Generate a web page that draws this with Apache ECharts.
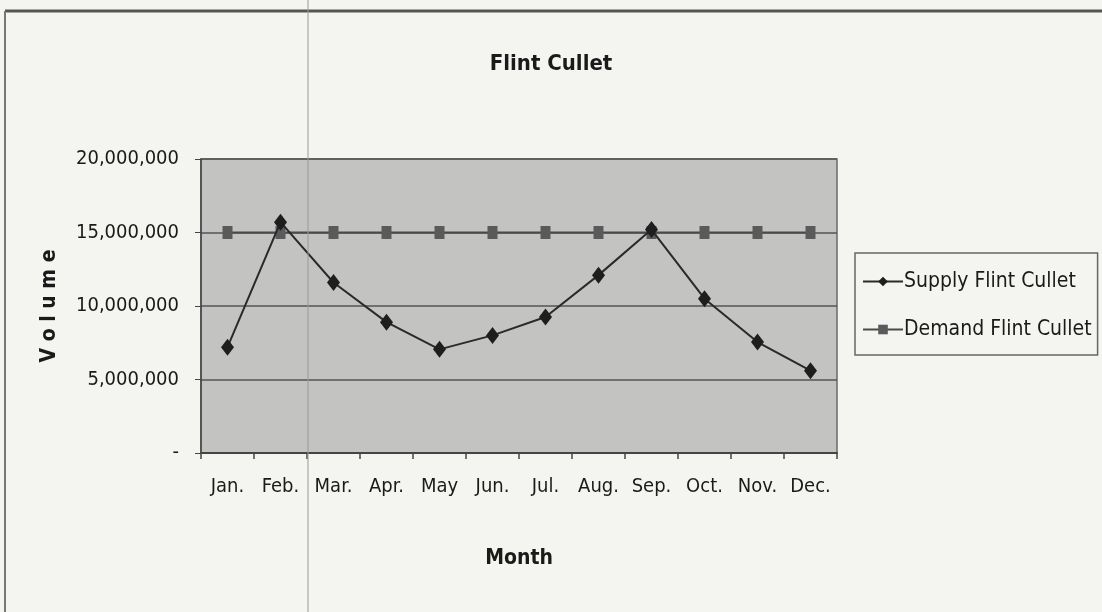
<!DOCTYPE html>
<html>
<head>
<meta charset="utf-8">
<title>Flint Cullet</title>
<script src="https://cdn.jsdelivr.net/npm/echarts@6/dist/echarts.min.js"></script>
<style>
  html, body { margin: 0; padding: 0; background: #f4f4f1; }
  #chart { width: 1102px; height: 612px; }
</style>
</head>
<body>
<div id="chart"></div>
<script>
// data
var months = ['Jan.', 'Feb.', 'Mar.', 'Apr.', 'May', 'Jun.', 'Jul.', 'Aug.', 'Sep.', 'Oct.', 'Nov.', 'Dec.']
var supply = [7200000, 15700000, 11600000, 8900000, 7050000, 8000000, 9250000, 12100000, 15200000, 10500000, 7550000, 5600000]
var demand = [15000000, 15000000, 15000000, 15000000, 15000000, 15000000, 15000000, 15000000, 15000000, 15000000, 15000000, 15000000]

var narrow = '"Liberation Sans Narrow", "DejaVu Sans Condensed", "Liberation Sans", sans-serif'

var chart = echarts.init(document.getElementById('chart'))

chart.setOption({
  backgroundColor: '#f4f4f1',
  animation: false,
  title: {
    text: 'Flint Cullet',
    left: 'center',
    top: 48,
    textStyle: { fontFamily: narrow, fontSize: 22, fontWeight: 'bold', color: '#1a1a1a' }
  },
  legend: {
    orient: 'vertical',
    left: 855,
    top: 253,
    padding: [18, 6, 15, 7],
    itemGap: 27,
    itemWidth: 40,
    itemHeight: 12,
    borderColor: '#666',
    borderWidth: 1.5,
    textStyle: { fontFamily: narrow, fontSize: 21, color: '#1a1a1a', padding: [0, 0, 0, -4] },
    data: ['Supply Flint Cullet', 'Demand Flint Cullet']
  },
  grid: {
    left: 201,
    right: 265,
    top: 159,
    bottom: 159,
    show: true,
    backgroundColor: '#c3c3c1',
    borderColor: '#6a6a6a',
    borderWidth: 1.5
  },
  xAxis: {
    type: 'category',
    data: months,
    boundaryGap: true,
    name: 'Month',
    nameLocation: 'middle',
    nameGap: 95,
    nameTextStyle: { fontFamily: narrow, fontSize: 21, fontWeight: 'bold', color: '#1a1a1a' },
    axisLine: { lineStyle: { color: '#444', width: 2 } },
    axisTick: { show: true, alignWithLabel: false, length: 6, lineStyle: { color: '#444', width: 1.5 } },
    axisLabel: { fontFamily: narrow, fontSize: 20, color: '#1a1a1a', margin: 24, interval: 0 }
  },
  yAxis: {
    type: 'value',
    min: 0,
    max: 20000000,
    interval: 5000000,
    name: 'V o l u m e',
    nameLocation: 'middle',
    nameGap: 141,
    nameTextStyle: { fontFamily: narrow, fontSize: 21, fontWeight: 'bold', color: '#1a1a1a' },
    axisLine: { show: true, lineStyle: { color: '#444', width: 1.5 } },
    axisTick: { show: true, length: 6, lineStyle: { color: '#444' } },
    axisLabel: {
      fontFamily: narrow,
      fontSize: 20,
      color: '#1a1a1a',
      margin: 22,
      formatter: function (v) {
        return v === 0 ? '-' : v.toLocaleString('en-US')
      }
    },
    splitLine: { lineStyle: { color: '#555', width: 1.5 } }
  },
  series: [
    {
      name: 'Supply Flint Cullet',
      type: 'line',
      data: supply,
      symbol: 'diamond',
      symbolSize: [13, 17],
      itemStyle: { color: '#1e1e1e' },
      lineStyle: { color: '#2a2a2a', width: 2 },
      z: 3
    },
    {
      name: 'Demand Flint Cullet',
      type: 'line',
      data: demand,
      symbol: 'rect',
      symbolSize: [10, 13],
      itemStyle: { color: '#5a5a5a' },
      lineStyle: { color: '#4a4a4a', width: 2 },
      z: 2
    }
  ],
  graphic: [
    // scan frame around the chart
    { type: 'line', shape: { x1: 5, y1: 11, x2: 1102, y2: 11 }, style: { stroke: '#555', lineWidth: 3 } },
    { type: 'line', shape: { x1: 5, y1: 11, x2: 5, y2: 612 }, style: { stroke: '#777', lineWidth: 2 } },
    { type: 'line', shape: { x1: 308, y1: 0, x2: 308, y2: 612 }, style: { stroke: '#999', lineWidth: 1 }, z: 100 }
  ]
})
</script>
</body>
</html>
